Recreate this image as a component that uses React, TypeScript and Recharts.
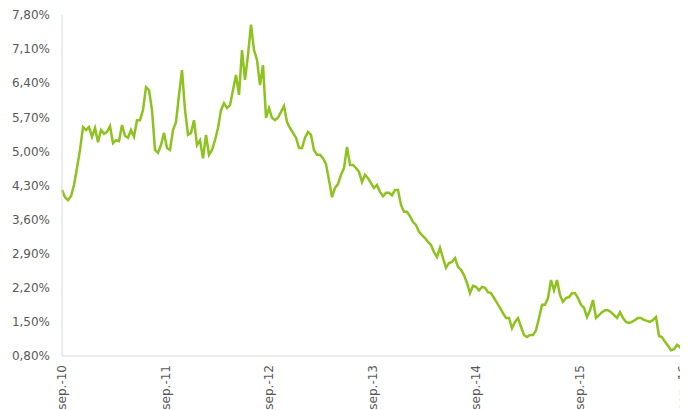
import React from 'react';
import { LineChart, Line, XAxis, YAxis } from 'recharts';

// Yield (%) sampled at equal intervals from sep.-10 to sep.-16
const rates: number[] = [
  4.21, 4.06, 4.0, 4.08, 4.31, 4.66, 5.03, 5.5, 5.44, 5.5,
  5.3, 5.48, 5.19, 5.44, 5.36, 5.4, 5.52, 5.17, 5.23, 5.21,
  5.54, 5.32, 5.28, 5.44, 5.3, 5.64, 5.64, 5.85, 6.32, 6.26,
  5.85, 5.03, 4.97, 5.13, 5.38, 5.07, 5.03, 5.44, 5.6, 6.16,
  6.67, 5.85, 5.34, 5.38, 5.64, 5.13, 5.23, 4.86, 5.34, 4.93,
  5.03, 5.23, 5.48, 5.85, 5.99, 5.89, 5.95, 6.26, 6.57, 6.16,
  7.08, 6.47, 6.98, 7.6, 7.08, 6.88, 6.36, 6.77, 5.69, 5.89,
  5.69, 5.64, 5.69, 5.81, 5.93, 5.6, 5.48, 5.38, 5.28, 5.07,
  5.07, 5.28, 5.4, 5.34, 5.03, 4.93, 4.93, 4.86, 4.74, 4.41,
  4.06, 4.25, 4.33, 4.52, 4.66, 5.09, 4.72, 4.72, 4.66, 4.58,
  4.37, 4.52, 4.45, 4.35, 4.25, 4.31, 4.17, 4.08, 4.15, 4.15,
  4.1, 4.21, 4.21, 3.9, 3.76, 3.76, 3.67, 3.55, 3.49, 3.35,
  3.28, 3.22, 3.14, 3.08, 2.93, 2.83, 3.02, 2.81, 2.61, 2.71,
  2.73, 2.81, 2.63, 2.57, 2.46, 2.3, 2.09, 2.24, 2.22, 2.15,
  2.22, 2.2, 2.11, 2.09, 1.99, 1.89, 1.79, 1.68, 1.58, 1.58,
  1.37, 1.5, 1.58, 1.4, 1.23, 1.19, 1.23, 1.23, 1.33, 1.58,
  1.85, 1.85, 1.99, 2.36, 2.15, 2.36, 2.05, 1.91, 1.99, 2.01,
  2.09, 2.09, 1.99, 1.85, 1.79, 1.6, 1.74, 1.95, 1.58, 1.64,
  1.7, 1.74, 1.74, 1.7, 1.64, 1.58, 1.7, 1.58, 1.5, 1.48,
  1.5, 1.54, 1.58, 1.58, 1.54, 1.52, 1.5, 1.54, 1.6, 1.21,
  1.19, 1.09, 1.01, 0.92, 0.94, 1.03, 0.98, 0.92,
];

const totalMonths = 72;
const xTickMonths: number[] = [0, 12, 24, 36, 48, 60, 72];
const xTickLabels: string[] = ['sep.-10', 'sep.-11', 'sep.-12', 'sep.-13', 'sep.-14', 'sep.-15', 'sep.-16'];
const yTicks: number[] = [0.8, 1.5, 2.2, 2.9, 3.6, 4.3, 5.0, 5.7, 6.4, 7.1, 7.8];

const data = rates.map((v, i) => ({ m: (i * totalMonths) / (rates.length - 1), v }));

const FONT = "'DejaVu Sans', Verdana, sans-serif";
const TEXT = '#595959';

const XTick = (props: any) => {
  const { x, y, payload } = props;
  const idx = xTickMonths.indexOf(payload.value);
  const label = idx >= 0 ? xTickLabels[idx] : '';
  return (
    <text
      x={x}
      y={y}
      transform={`rotate(-90 ${x} ${y})`}
      textAnchor="end"
      dominantBaseline="central"
      fontSize={12}
      fontFamily={FONT}
      fill={TEXT}
    >
      {label}
    </text>
  );
};

const fmtY = (v: number) => v.toFixed(2).replace('.', ',') + '%';

export default function App() {
  return (
    <LineChart
      width={680}
      height={402}
      data={data}
      margin={{ top: 7, right: 5, bottom: 0, left: 0 }}
    >
      <XAxis
        dataKey="m"
        type="number"
        domain={[0, totalMonths]}
        ticks={xTickMonths}
        tick={<XTick />}
        tickLine={false}
        tickSize={6}
        tickMargin={3}
        height={54}
        axisLine={{ stroke: '#D9D9D9', strokeWidth: 1 }}
        interval={0}
      />
      <YAxis
        type="number"
        domain={[0.8, 7.8]}
        ticks={yTicks}
        tickFormatter={fmtY}
        width={54}
        tickLine={false}
        tickSize={6}
        tickMargin={6}
        interval={0}
        axisLine={{ stroke: '#D9D9D9', strokeWidth: 1 }}
        tick={{ fontSize: 12, fontFamily: FONT, fill: TEXT }}
      />
      <Line
        type="linear"
        dataKey="v"
        stroke="#8DC21F"
        strokeWidth={2.5}
        dot={false}
        isAnimationActive={false}
      />
    </LineChart>
  );
}
